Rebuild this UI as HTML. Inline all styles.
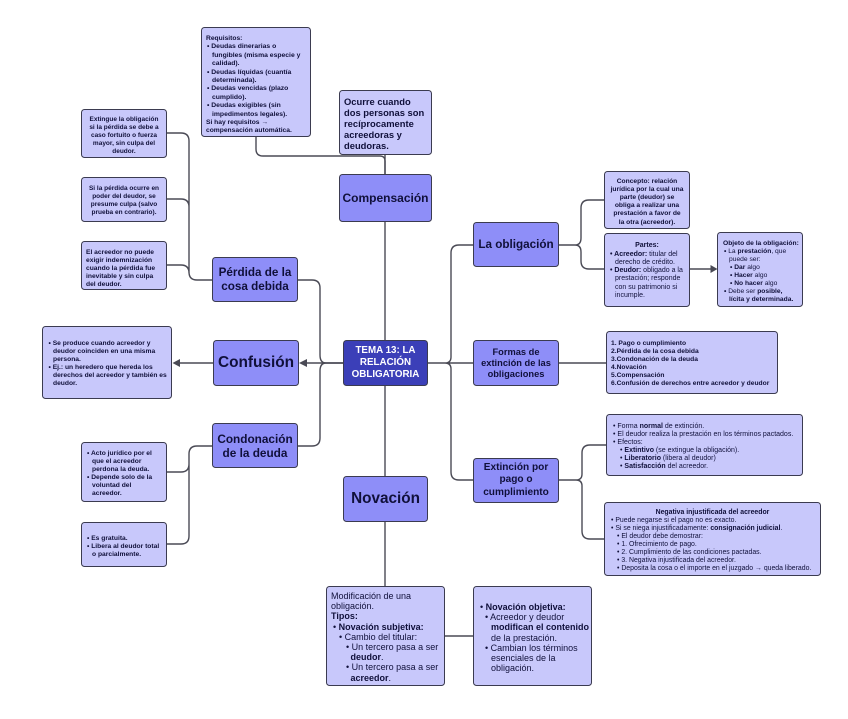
<!DOCTYPE html>
<html lang="es"><head><meta charset="utf-8"><title>Tema 13</title>
<style>
html,body{margin:0;padding:0;background:#fff}
#p{position:relative;width:848px;height:719px;overflow:hidden;background:#fff;font-family:"Liberation Sans",sans-serif;color:#10103a}
svg{position:absolute;left:0;top:0}
.b{position:absolute;box-sizing:border-box;border:1.4px solid #3b3b50;border-radius:3.5px;background:#c8c8fb;white-space:nowrap;font-size:6.7px;line-height:8px;font-weight:700}
.n{background:#8e8ef8;display:flex;align-items:center;justify-content:center;text-align:center;font-weight:700}
.c{text-align:center}
.r{font-weight:400}
</style></head><body><div id="p">
<svg width="848" height="719" fill="none" stroke="#4a4a55" stroke-width="1.4">
<path d="M385 222V340M385 386V476M385 522V586M385 174V161Q385 156 380 156H263Q256 156 256 149V137"/>
<path d="M385 174V155"/>
<path d="M212 280H197Q189 280 189 272V141Q189 133 181 133H167M189 207Q189 199 181 199H167M189 273Q189 265 181 265H167"/>
<path d="M298 280H312Q320 280 320 288V355Q320 363 326 363H343M298 446H312Q320 446 320 438V371Q320 363 326 363"/>
<path d="M343 363H306M213 363H179"/>
<path d="M212 446H197Q189 446 189 454V536Q189 544 181 544H167M189 464Q189 472 181 472H167"/>
<path d="M428 363H473M445 363Q451 363 451 357V253Q451 245 459 245H473M445 363Q451 363 451 369V472Q451 480 459 480H473"/>
<path d="M559 245H575Q581 245 581 238V208Q581 200 589 200H604M575 245Q581 245 581 252V261Q581 269 589 269H604M690 269H712"/>
<path d="M559 363H606"/>
<path d="M559 480H576Q582 480 582 474V453Q582 445 590 445H606M576 480Q582 480 582 486V531Q582 539 590 539H604"/>
<path d="M445 636H473"/>
<path d="M299 363L307 359V367Z M172.500 363L180 359V367Z M717.500 269L710.500 265V273Z" fill="#4a4a55" stroke="none"/>
</svg>

<div class="b" style="left:201px;top:27px;width:110px;height:110px;padding:7px 0 0 4px;line-height:8.4px">Requisitos:
<div style="padding-left:1px;font-size:6.800px">&bull; Deudas dinerarias o<br><span style="padding-left:5px">fungibles (misma especie y</span><br><span style="padding-left:5px">calidad).</span><br>&bull; Deudas líquidas (cuantía<br><span style="padding-left:5px">determinada).</span><br>&bull; Deudas vencidas (plazo<br><span style="padding-left:5px">cumplido).</span><br>&bull; Deudas exigibles (sin<br><span style="padding-left:5px">impedimentos legales).</span></div>Si hay requisitos →<br>compensación automática.</div>

<div class="b" style="left:339px;top:90px;width:93px;height:65px;padding:5.300px 0 0 4px;font-size:9.400px;line-height:11px">Ocurre cuando<br>dos personas son<br>recíprocamente<br>acreedoras y<br>deudoras.</div>

<div class="b n" style="left:339px;top:174px;width:93px;height:48px;font-size:12px">Compensación</div>

<div class="b c" style="left:81px;top:109px;width:86px;height:49px;padding:5.500px 0 0;font-size:6.500px">Extingue la obligación<br>si la pérdida se debe a<br>caso fortuito o fuerza<br>mayor, sin culpa del<br>deudor.</div>
<div class="b c" style="left:81px;top:177px;width:86px;height:45px;padding:6.500px 0 0;font-size:6.500px">Si la pérdida ocurre en<br>poder del deudor, se<br>presume culpa (salvo<br>prueba en contrario).</div>
<div class="b" style="left:81px;top:241px;width:86px;height:49px;padding:6.500px 0 0 4px">El acreedor no puede<br>exigir indemnización<br>cuando la pérdida fue<br>inevitable y sin culpa<br>del deudor.</div>

<div class="b n" style="left:212px;top:257px;width:86px;height:45px;font-size:11.700px;line-height:14px">Pérdida de la<br>cosa debida</div>

<div class="b" style="left:42px;top:326px;width:130px;height:73px;padding:13px 0 0 5.500px">&bull; Se produce cuando acreedor y<br><span style="padding-left:4.500px">deudor coinciden en una misma</span><br><span style="padding-left:4.500px">persona.</span><br>&bull; Ej.: un heredero que hereda los<br><span style="padding-left:4.500px">derechos del acreedor y también es</span><br><span style="padding-left:4.500px">deudor.</span></div>

<div class="b n" style="left:213px;top:340px;width:86px;height:46px;font-size:15.400px">Confusión</div>
<div class="b n" style="left:212px;top:423px;width:86px;height:45px;font-size:11.800px;line-height:14px">Condonación<br>de la deuda</div>

<div class="b" style="left:81px;top:442px;width:86px;height:60px;padding:6.500px 0 0 5px">&bull; Acto jurídico por el<br><span style="padding-left:5px">que el acreedor</span><br><span style="padding-left:5px">perdona la deuda.</span><br>&bull; Depende solo de la<br><span style="padding-left:5px">voluntad del</span><br><span style="padding-left:5px">acreedor.</span></div>
<div class="b" style="left:81px;top:522px;width:86px;height:45px;padding:12px 0 0 5px">&bull; Es gratuita.<br>&bull; Libera al deudor total<br><span style="padding-left:5px">o parcialmente.</span></div>

<div class="b n" style="left:343px;top:340px;width:85px;height:46px;background:#3b3fb8;color:#fff;font-size:9.800px;line-height:12px">TEMA 13: LA<br>RELACIÓN<br>OBLIGATORIA</div>
<div class="b n" style="left:343px;top:476px;width:85px;height:46px;font-size:15.300px">Novación</div>

<div class="b n" style="left:473px;top:222px;width:86px;height:45px;font-size:11.700px">La obligación</div>
<div class="b n" style="left:473px;top:340px;width:86px;height:46px;font-size:9.300px;line-height:11px">Formas de<br>extinción de las<br>obligaciones</div>
<div class="b n" style="left:473px;top:458px;width:86px;height:45px;font-size:10.100px;line-height:12.500px">Extinción por<br>pago o<br>cumplimiento</div>

<div class="b c" style="left:604px;top:171px;width:86px;height:58px;padding:5.500px 0 0;line-height:8.200px">Concepto: relación<br>jurídica por la cual una<br>parte (deudor) se<br>obliga a realizar una<br>prestación a favor de<br>la otra (acreedor).</div>
<div class="b" style="left:604px;top:233px;width:86px;height:74px;padding:7.500px 0 0 5px;line-height:8.200px;font-size:7px"><div style="text-align:center;margin-left:-5px;margin-bottom:1px">Partes:</div>&bull; Acreedor: <span class="r">titular del</span><br><span class="r" style="padding-left:5px">derecho de crédito.</span><br>&bull; Deudor: <span class="r">obligado a la</span><br><span class="r" style="padding-left:5px">prestación; responde</span><br><span class="r" style="padding-left:5px">con su patrimonio si</span><br><span class="r" style="padding-left:5px">incumple.</span></div>
<div class="b" style="left:717px;top:232px;width:86px;height:75px;padding:6.500px 0 0 5px">Objeto de la obligación:<br><span style="padding-left:1px">&bull; <span class="r">La</span> prestación<span class="r">, que</span></span><br><span class="r" style="padding-left:6px">puede ser:</span><br><span style="padding-left:7px">&bull; Dar <span class="r">algo</span></span><br><span style="padding-left:7px">&bull; Hacer <span class="r">algo</span></span><br><span style="padding-left:7px">&bull; No hacer <span class="r">algo</span></span><br><span style="padding-left:1px">&bull; <span class="r">Debe ser</span> posible,</span><br><span style="padding-left:6px">lícita y determinada.</span></div>

<div class="b" style="left:606px;top:331px;width:172px;height:63px;padding:7.500px 0 0 4px">1. Pago o cumplimiento<br>2.Pérdida de la cosa debida<br>3.Condonación de la deuda<br>4.Novación<br>5.Compensación<br>6.Confusión de derechos entre acreedor y deudor</div>

<div class="b r" style="left:606px;top:414px;width:197px;height:62px;padding:8px 0 0 6px;font-size:7px">&bull; Forma <b>normal</b> de extinción.<br>&bull; El deudor realiza la prestación en los términos pactados.<br>&bull; Efectos:<br><span style="padding-left:7px">&bull; <b>Extintivo</b> (se extingue la obligación).</span><br><span style="padding-left:7px">&bull; <b>Liberatorio</b> (libera al deudor)</span><br><span style="padding-left:7px">&bull; <b>Satisfacción</b> del acreedor.</span></div>

<div class="b r" style="left:604px;top:502px;width:217px;height:74px;padding:5.500px 0 0 6px;font-size:6.900px"><div style="text-align:center;font-weight:700;margin-left:-6px">Negativa injustificada del acreedor</div>&bull; Puede negarse si el pago no es exacto.<br>&bull; Si se niega injustificadamente: <b>consignación judicial</b>.<br><span style="padding-left:6px">&bull; El deudor debe demostrar:</span><br><span style="padding-left:6px">&bull; 1. Ofrecimiento de pago.</span><br><span style="padding-left:6px">&bull; 2. Cumplimiento de las condiciones pactadas.</span><br><span style="padding-left:6px">&bull; 3. Negativa injustificada del acreedor.</span><br><span style="padding-left:6px">&bull; Deposita la cosa o el importe en el juzgado → queda liberado.</span></div>

<div class="b r" style="left:326px;top:586px;width:119px;height:100px;padding:4px 0 0 4px;font-size:9px;line-height:10.200px">Modificación de una<br>obligación.<br><b>Tipos:</b><br><span style="padding-left:2px">&bull; <b>Novación subjetiva:</b></span><br><span style="padding-left:8px">&bull; Cambio del titular:</span><br><span style="padding-left:15px">&bull; Un tercero pasa a ser</span><br><span style="padding-left:19.500px"><b>deudor</b>.</span><br><span style="padding-left:15px">&bull; Un tercero pasa a ser</span><br><span style="padding-left:19.500px"><b>acreedor</b>.</span></div>

<div class="b r" style="left:473px;top:586px;width:119px;height:100px;padding:15px 0 0 6px;font-size:9px;line-height:10.200px">&bull; <b>Novación objetiva:</b><br><span style="padding-left:5px">&bull; Acreedor y deudor</span><br><span style="padding-left:11px"><b>modifican el contenido</b></span><br><span style="padding-left:11px">de la prestación.</span><br><span style="padding-left:5px">&bull; Cambian los términos</span><br><span style="padding-left:11px">esenciales de la</span><br><span style="padding-left:11px">obligación.</span></div>
</div></body></html>
